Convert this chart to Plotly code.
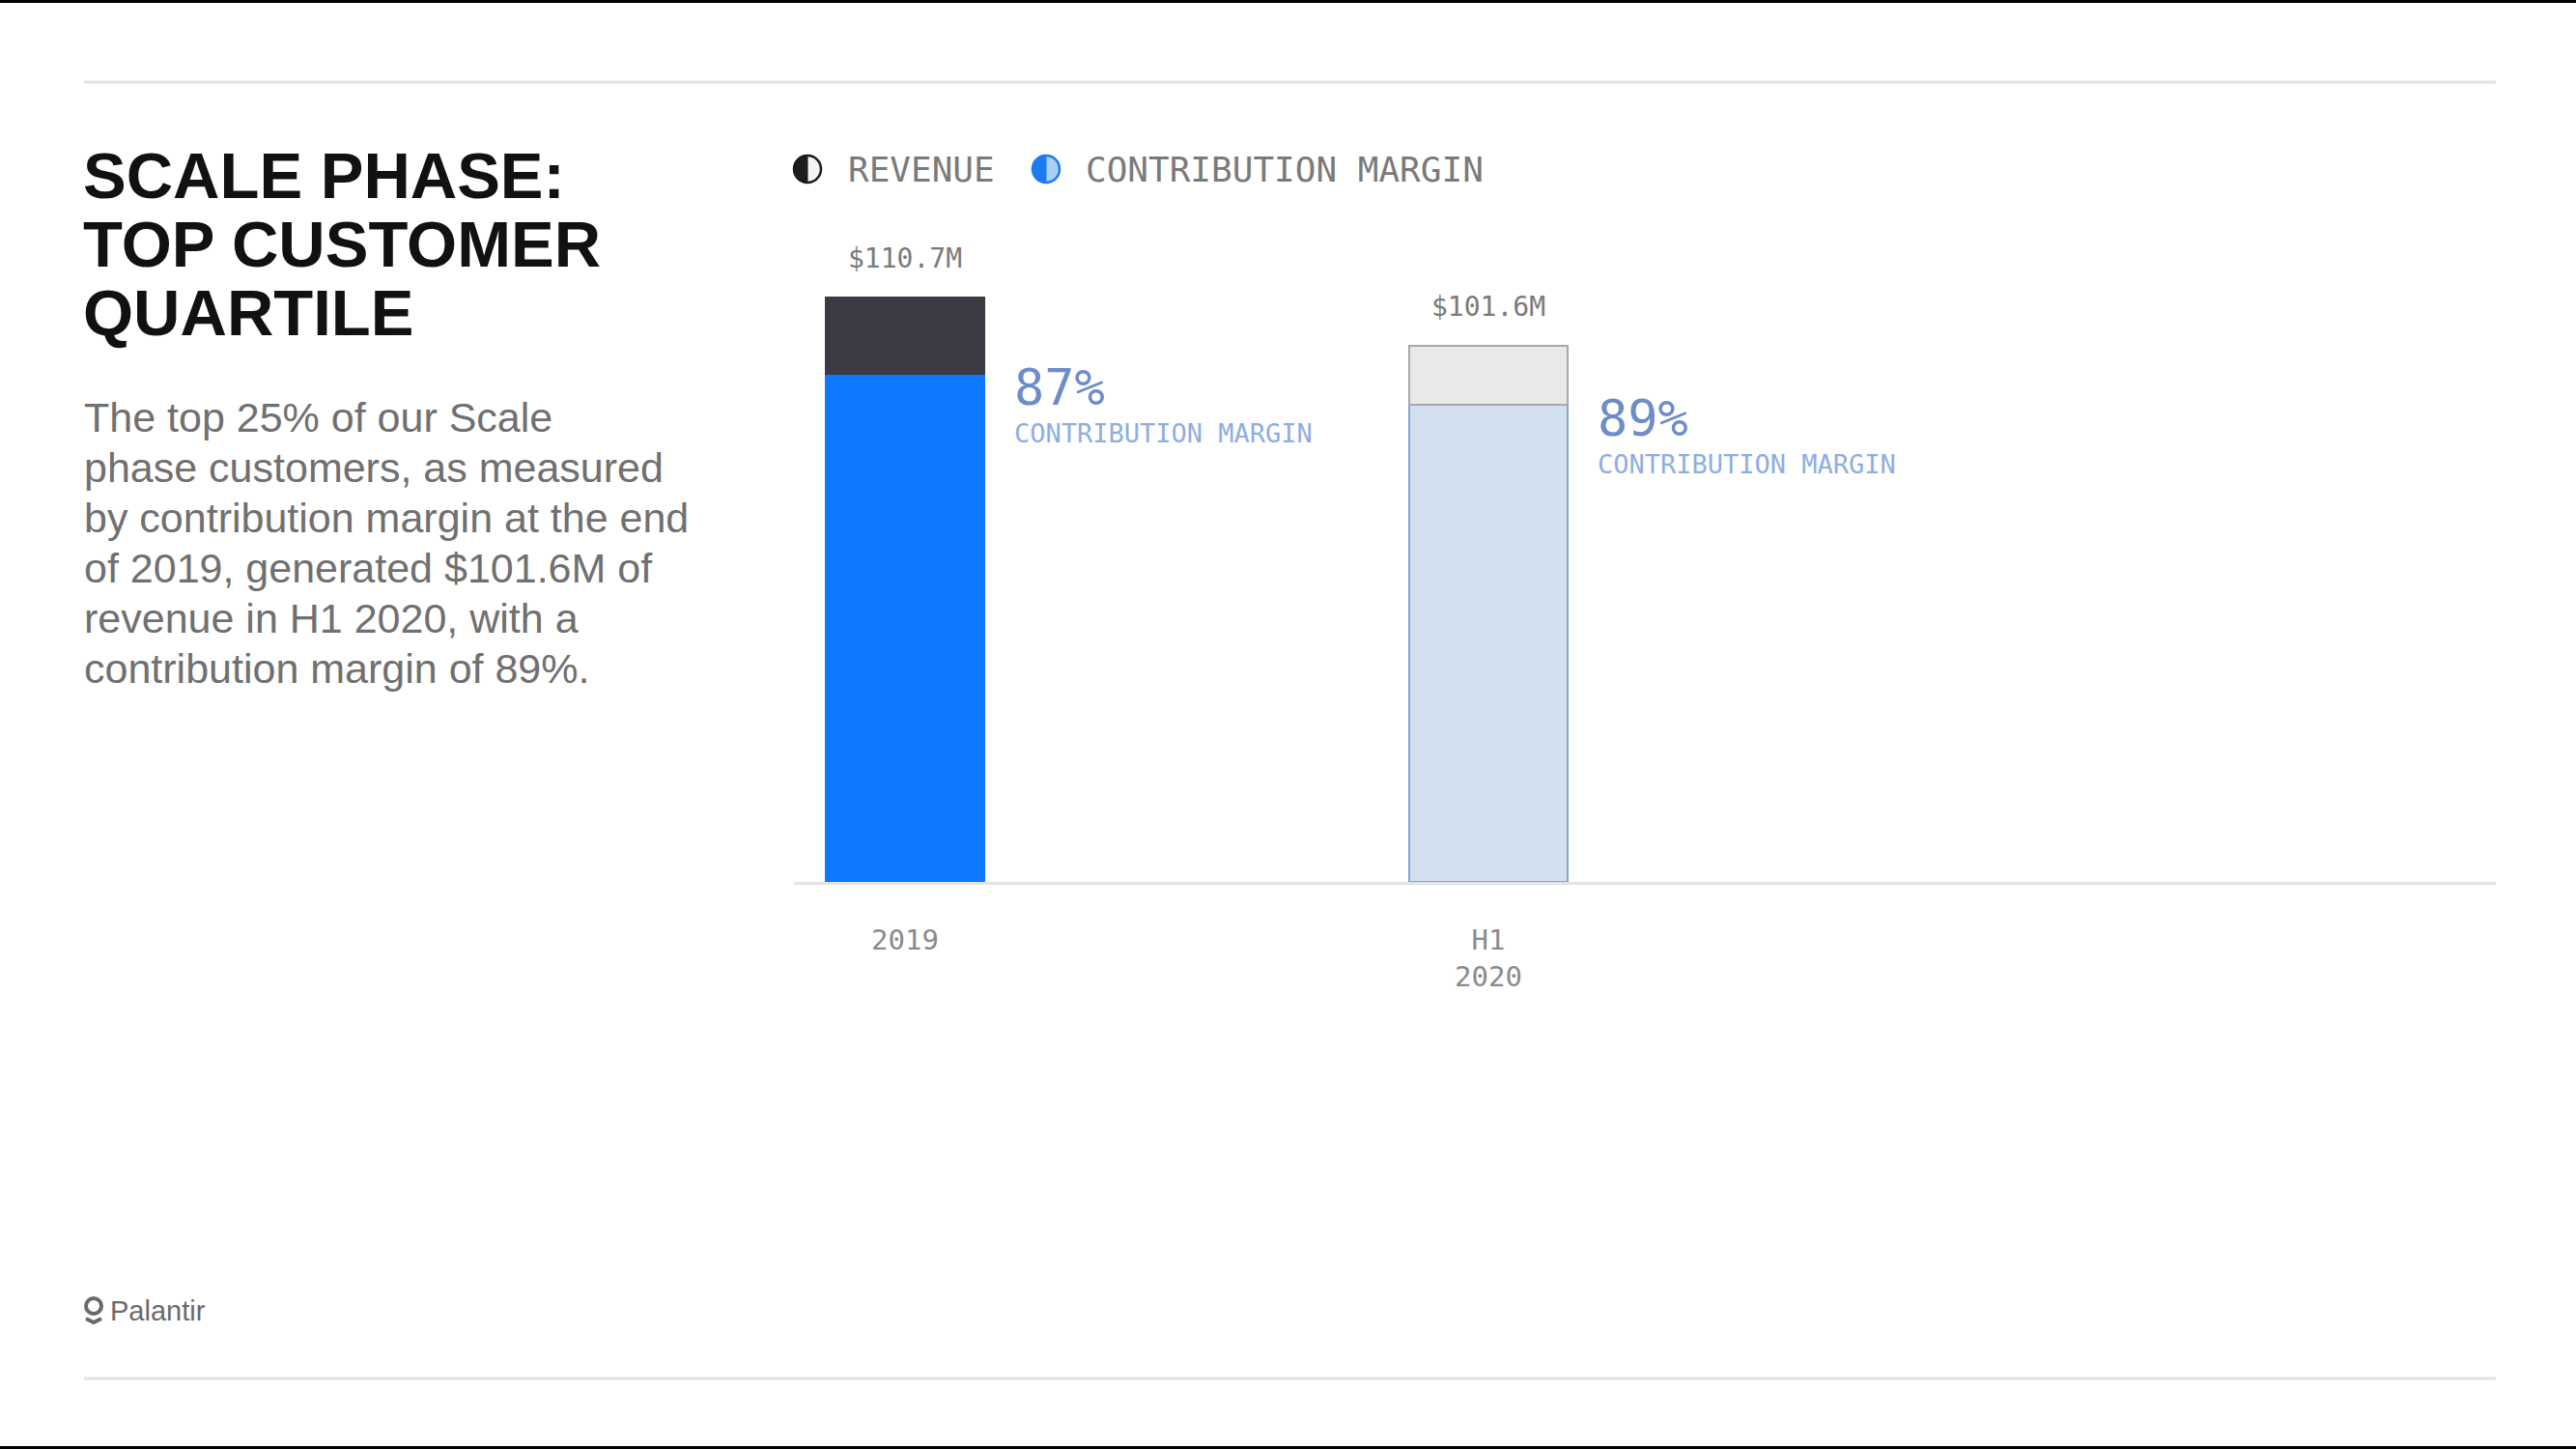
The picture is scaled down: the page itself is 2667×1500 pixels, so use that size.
import numpy as np
import plotly.graph_objects as go

# ---------------- data ----------------
categories = ["2019", "H1<br>2020"]
revenue_m = [110.7, 101.6]          # $M total revenue
margin_pct = [87, 89]               # contribution margin %
revenue_labels = ["$110.7M", "$101.6M"]

title_lines = ["SCALE PHASE:", "TOP CUSTOMER", "QUARTILE"]
body_lines = [
    "The top 25% of our Scale",
    "phase customers, as measured",
    "by contribution margin at the end",
    "of 2019, generated $101.6M of",
    "revenue in H1 2020, with a",
    "contribution margin of 89%.",
]

# ---------------- derived ----------------
cm_value = [r * p / 100 for r, p in zip(revenue_m, margin_pct)]
rest_value = [r - c for r, c in zip(revenue_m, cm_value)]
xpos = list(range(len(categories)))

W, H = 2667, 1500
MONO = "DejaVu Sans Mono"
SANS = "Liberation Sans"
BAR_W = 0.27

fig = go.Figure()
fig.add_trace(go.Bar(
    x=xpos, y=cm_value, width=BAR_W,
    marker=dict(color=["#0f78ff", "#d3e0ef"],
                line=dict(color=["#0f78ff", "#86a6d6"], width=2)),
    hoverinfo="skip", showlegend=False,
))
fig.add_trace(go.Bar(
    x=xpos, y=rest_value, width=BAR_W,
    marker=dict(color=["#3c3b43", "#e9e9eb"],
                line=dict(color=["#3c3b43", "#a9a9ad"], width=2)),
    hoverinfo="skip", showlegend=False,
))

ann = []
# value labels above bars
for i, (r, lab) in enumerate(zip(revenue_m, revenue_labels)):
    ann.append(dict(x=i, y=r, xref="x", yref="y", text=lab, showarrow=False,
                    xanchor="center", yanchor="middle", yshift=40,
                    font=dict(family=MONO, size=28, color="#7a7a7a")))
# contribution margin labels
dx = BAR_W / 2 + 29 / 604
for i, (c, p) in enumerate(zip(cm_value, margin_pct)):
    ann.append(dict(x=i + dx, y=c, xref="x", yref="y", text=f"{p}%", showarrow=False,
                    xanchor="left", yanchor="middle", yshift=-14,
                    font=dict(family=MONO, size=52, color="#6d8cc8")))
    ann.append(dict(x=i + dx, y=c, xref="x", yref="y", text="CONTRIBUTION MARGIN",
                    showarrow=False, xanchor="left", yanchor="middle", yshift=-62,
                    font=dict(family=MONO, size=27, color="#8eaee0")))

# title lines
for k, t in enumerate(title_lines):
    ann.append(dict(x=84 / W, y=1 - (181 + 71 * k) / H, xref="paper", yref="paper",
                    text=f"<b>{t}</b>", showarrow=False, xanchor="left", yanchor="middle",
                    font=dict(family=SANS, size=67, color="#111111")))
# body lines
for k, t in enumerate(body_lines):
    ann.append(dict(x=85 / W, y=1 - (432 + 52 * k) / H, xref="paper", yref="paper",
                    text=t, showarrow=False, xanchor="left", yanchor="middle",
                    font=dict(family=SANS, size=43, color="#707070")))

# legend texts
ann.append(dict(x=876 / W, y=1 - 176 / H, xref="paper", yref="paper", text="REVENUE",
                showarrow=False, xanchor="left", yanchor="middle",
                font=dict(family=MONO, size=36, color="#7a7a7a")))
ann.append(dict(x=1122 / W, y=1 - 176 / H, xref="paper", yref="paper",
                text="CONTRIBUTION MARGIN", showarrow=False, xanchor="left", yanchor="middle",
                font=dict(family=MONO, size=36, color="#7a7a7a")))
# logo text
ann.append(dict(x=112 / W, y=1 - 1357 / H, xref="paper", yref="paper", text="Palantir",
                showarrow=False, xanchor="left", yanchor="middle",
                font=dict(family=SANS, size=29, color="#6a6a6a")))

shapes = []
# black bands top & bottom
shapes.append(dict(type="rect", xref="paper", yref="paper", x0=0, x1=1, y0=1 - 3 / H, y1=1,
                   fillcolor="black", line=dict(width=0), layer="above"))
shapes.append(dict(type="rect", xref="paper", yref="paper", x0=0, x1=1, y0=0, y1=3 / H,
                   fillcolor="black", line=dict(width=0), layer="above"))
# gray rules
for yy in (85, 1427):
    shapes.append(dict(type="line", xref="paper", yref="paper", x0=87 / W, x1=2584 / W,
                       y0=1 - yy / H, y1=1 - yy / H, line=dict(color="#e2e2e2", width=3)))


def half_disc_path(r, n=40):
    th = np.linspace(np.pi / 2, 3 * np.pi / 2, n)
    pts = [f"{r * np.cos(t):.2f},{r * np.sin(t):.2f}" for t in th]
    return "M " + " L ".join(pts) + " Z"


def icon(cx, cy, r, light, dark, outline):
    px, py = cx / W, 1 - cy / H
    out = [dict(type="circle", xref="paper", yref="paper", xsizemode="pixel", ysizemode="pixel",
                xanchor=px, yanchor=py, x0=-r, x1=r, y0=-r, y1=r,
                fillcolor=light, line=dict(color=outline, width=2.5)),
           dict(type="path", xref="paper", yref="paper", xsizemode="pixel", ysizemode="pixel",
                xanchor=px, yanchor=py, path=half_disc_path(r),
                fillcolor=dark, line=dict(color=dark, width=1))]
    return out


shapes += icon(836, 175, 14, "#f4f4f4", "#1c1c1c", "#1c1c1c")
shapes += icon(1083, 175, 14, "#a9d0f7", "#1a7cf0", "#1a7cf0")

# logo mark
shapes.append(dict(type="circle", xref="paper", yref="paper", xsizemode="pixel", ysizemode="pixel",
                   xanchor=97 / W, yanchor=1 - 1352 / H, x0=-8, x1=8, y0=-8, y1=8,
                   fillcolor="rgba(0,0,0,0)", line=dict(color="#6a6a6a", width=4)))
shapes.append(dict(type="path", xref="paper", yref="paper", xsizemode="pixel", ysizemode="pixel",
                   xanchor=97 / W, yanchor=1 - 1352 / H, path="M -8,-13 L 0,-17 L 8,-13",
                   line=dict(color="#6a6a6a", width=4)))

x_lo = -(937 - 822) / 604
x_hi = (2584 - 937) / 604

fig.update_layout(
    width=W, height=H, margin=dict(l=0, r=0, t=0, b=0),
    paper_bgcolor="white", plot_bgcolor="white",
    barmode="stack", showlegend=False,
    xaxis=dict(domain=[822 / W, 2584 / W], range=[x_lo, x_hi],
               tickvals=xpos, ticktext=categories, ticks="",
               showline=True, linecolor="#e3e3e3", linewidth=3,
               showgrid=False, zeroline=False, ticklabelstandoff=32,
               tickfont=dict(family=MONO, size=29, color="#8a8a8a")),
    yaxis=dict(domain=[(H - 913) / H, (H - 257) / H], range=[0, 120], visible=False),
    annotations=ann, shapes=shapes,
)

fig.write_html("out.html")
